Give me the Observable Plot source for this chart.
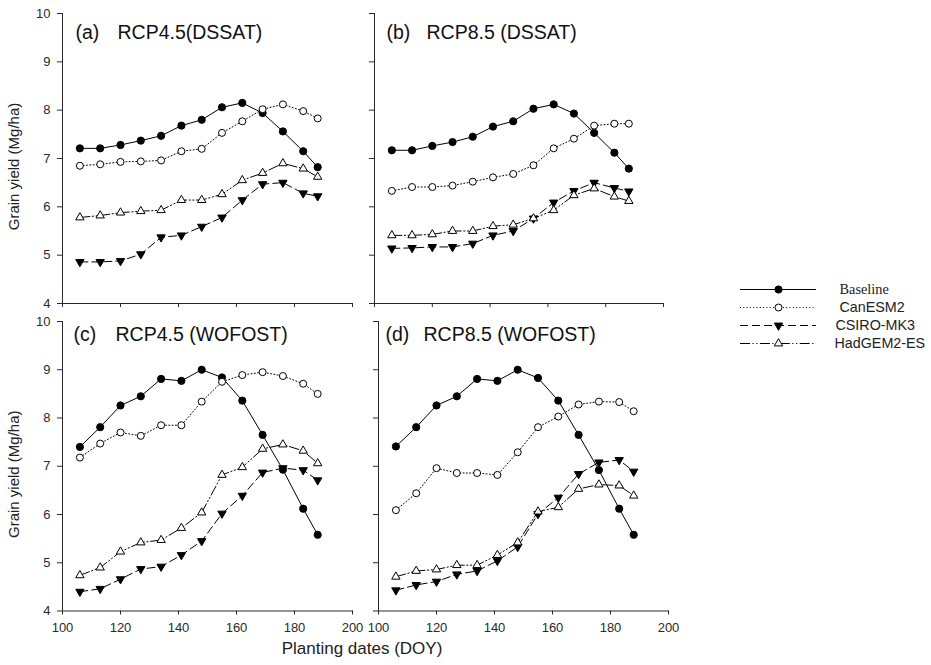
<!DOCTYPE html>
<html><head><meta charset="utf-8">
<script src="https://cdn.jsdelivr.net/npm/d3@7"></script>
<script src="https://cdn.jsdelivr.net/npm/@observablehq/plot@0.6"></script>
<style>
body{margin:0;background:#fff;}
#chart{position:relative;width:931px;height:665px;font-family:"Liberation Sans",Arial,sans-serif;color:#222;overflow:hidden;}
.panel{position:absolute;}
.xlab{position:absolute;white-space:nowrap;font-size:17px;line-height:17px;color:#222;transform:translateX(-50%);}
</style></head><body><div id="chart"></div>
<script>
// ---------- data ----------
const doy = [106,113,120,127,134,141,148,155,162,169,176,183,188];
const seriesNames = ["Baseline","CanESM2","CSIRO-MK3","HadGEM2-ES"];
const panelLetters = ["(a)","(b)","(c)","(d)"];
const panelTitles = ["RCP4.5(DSSAT)","RCP8.5 (DSSAT)","RCP4.5 (WOFOST)","RCP8.5 (WOFOST)"];
const xTicks = [100,120,140,160,180,200];
const yTicks = [4,5,6,7,8,9,10];
const yLabel = "Grain yield (Mg/ha)";
const xLabel = "Planting dates (DOY)";

const aBaseline = [7.21,7.21,7.28,7.37,7.47,7.68,7.80,8.06,8.15,7.94,7.56,7.15,6.82];
const aCanESM2  = [6.85,6.88,6.93,6.94,6.96,7.15,7.20,7.53,7.77,8.02,8.12,7.98,7.83];
const aCSIRO    = [4.86,4.86,4.88,5.02,5.37,5.41,5.59,5.78,6.14,6.47,6.50,6.28,6.22];
const aHadGEM   = [5.78,5.82,5.88,5.91,5.93,6.14,6.14,6.26,6.55,6.70,6.90,6.79,6.62];

const bBaseline = [7.17,7.17,7.26,7.34,7.45,7.66,7.77,8.03,8.12,7.93,7.53,7.12,6.79];
const bCanESM2  = [6.33,6.41,6.41,6.44,6.52,6.61,6.68,6.86,7.21,7.41,7.68,7.72,7.72];
const bCSIRO    = [5.14,5.15,5.17,5.17,5.24,5.41,5.50,5.76,6.09,6.33,6.50,6.39,6.32];
const bHadGEM   = [5.41,5.41,5.43,5.50,5.50,5.60,5.63,5.76,5.93,6.24,6.38,6.21,6.12];

const cBaseline = [7.40,7.81,8.26,8.45,8.81,8.77,9.00,8.84,8.36,7.65,6.93,6.12,5.58];
const cCanESM2  = [7.18,7.47,7.70,7.63,7.85,7.85,8.34,8.75,8.89,8.95,8.87,8.71,8.50];
const cCSIRO    = [4.40,4.46,4.66,4.87,4.92,5.16,5.45,6.02,6.39,6.87,6.96,6.92,6.71];
const cHadGEM   = [4.74,4.90,5.23,5.42,5.47,5.72,6.04,6.82,6.98,7.36,7.45,7.32,7.06];

const dBaseline = [7.41,7.81,8.26,8.45,8.81,8.77,9.00,8.83,8.36,7.65,6.92,6.12,5.58];
const dCanESM2  = [6.09,6.44,6.96,6.86,6.86,6.82,7.29,7.81,8.03,8.28,8.34,8.33,8.14];
const dCSIRO    = [4.43,4.54,4.61,4.76,4.83,5.04,5.33,6.01,6.35,6.84,7.08,7.13,6.89];
const dHadGEM   = [4.71,4.83,4.86,4.95,4.95,5.16,5.42,6.06,6.15,6.53,6.62,6.60,6.39];

const panelSeries = [
  [aBaseline,aCanESM2,aCSIRO,aHadGEM],
  [bBaseline,bCanESM2,bCSIRO,bHadGEM],
  [cBaseline,cCanESM2,cCSIRO,cHadGEM],
  [dBaseline,dCanESM2,dCSIRO,dHadGEM]
];

// ---------- styles ----------
const sqrt3 = Math.sqrt(3);
const triDown = {
  draw(context, size) {
    const y = -Math.sqrt(size / (sqrt3 * 3));
    context.moveTo(0, -y * 2);
    context.lineTo(-sqrt3 * y, y);
    context.lineTo(sqrt3 * y, y);
    context.closePath();
  }
};
const styles = [
  {dash: "none", symbol: "circle", fill: "black", r: 3.6, labelDx: 23, font: "'Liberation Serif','Times New Roman',serif"},
  {dash: "1 2.3", symbol: "circle", fill: "white", r: 3.5, labelDx: 23, font: "'Liberation Sans',Arial,sans-serif"},
  {dash: "8 4", symbol: triDown, fill: "black", r: 3.1, labelDx: 19, font: "'Liberation Sans',Arial,sans-serif"},
  {dash: "10 2.5 1.2 2.5 1.2 2.5", symbol: "triangle", fill: "white", r: 3.1, labelDx: 18, font: "'Liberation Sans',Arial,sans-serif"}
];

const layout = [
  {left:0,   top:0,   height:320, mt:13, mb:17,   mr:8, yLabels:true,  xLabels:false, letterDx:13, titleDx:55, titleDy:25.5},
  {left:312, top:0,   height:320, mt:13, mb:17,   mr:9, yLabels:false, xLabels:false, letterDx:12, titleDx:52, titleDy:25.5},
  {left:0,   top:308, height:340, mt:13, mb:37.5, mr:8, yLabels:true,  xLabels:true,  letterDx:11, titleDx:53, titleDy:19.5},
  {left:316, top:308, height:340, mt:13, mb:37.5, mr:8, yLabels:false, xLabels:true,  letterDx:7,  titleDx:45, titleDy:19}
];

const chart = document.getElementById("chart");
const baseStyle = {background: "transparent", fontFamily: "'Liberation Sans',Arial,sans-serif", fontSize: "13px", color: "#2a2a2a", overflow: "visible"};

layout.forEach((L, p) => {
  const marks = [];
  panelSeries[p].forEach((vals, s) => {
    const rows = doy.map((x, i) => ({x, y: vals[i]}));
    const st = styles[s];
    marks.push(Plot.line(rows, {x: "x", y: "y", stroke: "black", strokeWidth: 1, strokeDasharray: st.dash}));
  });
  panelSeries[p].forEach((vals, s) => {
    const rows = doy.map((x, i) => ({x, y: vals[i]}));
    const st = styles[s];
    marks.push(Plot.dot(rows, {x: "x", y: "y", symbol: st.symbol, r: st.r, fill: st.fill, stroke: "black", strokeWidth: 1}));
  });
  marks.push(Plot.text([panelLetters[p]], {frameAnchor: "top-left", text: d => d, dx: L.letterDx, dy: L.titleDy, textAnchor: "start", lineAnchor: "bottom", fontSize: 19.5, fill: "#111"}));
  marks.push(Plot.text([panelTitles[p]], {frameAnchor: "top-left", text: d => d, dx: L.titleDx, dy: L.titleDy, textAnchor: "start", lineAnchor: "bottom", fontSize: 19.5, fill: "#111"}));
  if (L.yLabels) {
    marks.push(Plot.text([yLabel], {frameAnchor: "left", text: d => d, rotate: -90, dx: -48, dy: 8, textAnchor: "middle", lineAnchor: "middle", fontSize: 15, fill: "#222"}));
  }
  const svg = Plot.plot({
    width: 360, height: L.height,
    marginLeft: 62, marginRight: L.mr, marginTop: L.mt, marginBottom: L.mb,
    style: baseStyle,
    x: {domain: [100, 200], ticks: xTicks, tickSize: 4, tickPadding: 8, label: null, line: true,
        tickFormat: L.xLabels ? (d => String(d)) : (() => "")},
    y: {domain: [4, 10], ticks: yTicks, tickSize: 5, tickPadding: 7, label: null, line: true,
        tickFormat: L.yLabels ? (d => String(d)) : (() => "")},
    marks
  });
  svg.classList.add("panel");
  svg.style.left = L.left + "px";
  svg.style.top = L.top + "px";
  chart.appendChild(svg);
});

// x-axis title
const xl = document.createElement("div");
xl.className = "xlab";
xl.textContent = xLabel;
xl.style.left = "362px";
xl.style.top = "640px";
chart.appendChild(xl);

// ---------- legend ----------
const legMarks = [];
seriesNames.forEach((name, s) => {
  const st = styles[s];
  legMarks.push(Plot.ruleY([name], {y: d => d, stroke: "black", strokeWidth: 1, strokeDasharray: st.dash}));
  legMarks.push(Plot.dot([name], {y: d => d, frameAnchor: "middle", symbol: st.symbol, r: st.r, fill: st.fill, stroke: "black", strokeWidth: 1}));
  legMarks.push(Plot.text([name], {y: d => d, text: d => d, frameAnchor: "right", dx: st.labelDx, textAnchor: "start", fontSize: 14.3, fontFamily: st.font, fill: "#222"}));
});
const legend = Plot.plot({
  width: 201, height: 72,
  marginLeft: 10, marginRight: 115, marginTop: 0, marginBottom: 0,
  style: baseStyle,
  x: {axis: null, domain: [0, 1]},
  y: {type: "point", domain: seriesNames, padding: 0.5, axis: null},
  marks: legMarks
});
legend.classList.add("panel");
legend.style.left = "730px";
legend.style.top = "280px";
chart.appendChild(legend);
</script>
</body></html>
